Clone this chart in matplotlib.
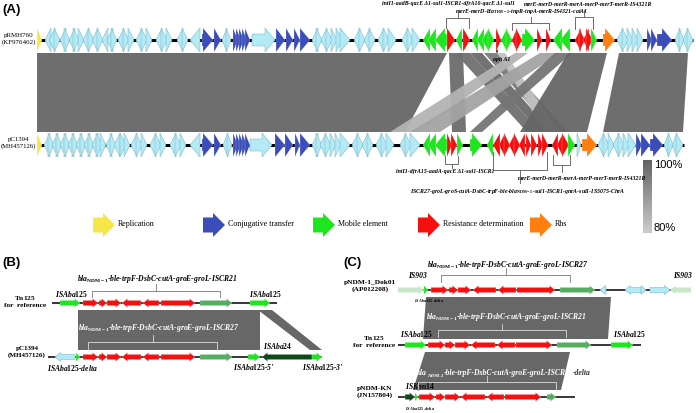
import numpy as np
import matplotlib
matplotlib.use("Agg")
from matplotlib import pyplot as plt
from matplotlib.patches import Polygon
from matplotlib.colors import LinearSegmentedColormap

plt.rcParams['font.family'] = ['Liberation Serif', 'DejaVu Serif']
plt.rcParams['mathtext.fontset'] = 'custom'
plt.rcParams['mathtext.it'] = 'Liberation Serif:italic:bold'
plt.rcParams['mathtext.rm'] = 'Liberation Serif:bold'
plt.rcParams['mathtext.bf'] = 'Liberation Serif:bold'

# colours per gene category
COL = {'rep': '#f7e64a', 'conj': '#3a4db8', 'mob': '#1ee61e', 'res': '#f50f0f',
       'rhs': '#ff7f10', 'hyp': '#b4eaf6', 'is': '#55ad5f', 'pale': '#c8e6c8',
       'dark': '#0e4a18'}

# ---------------- panel A data (positions on the drawing scale) ----------------
top_genes = [
    (37, 42, 1, 'rep'),
    (45, 51, -1, 'hyp'), (49, 55, -1, 'hyp'), (54, 60, 1, 'hyp'), (60, 66, -1, 'hyp'), (64, 70, 1, 'hyp'),
    (69, 75, -1, 'hyp'), (73, 79, 1, 'hyp'), (78, 84, 1, 'hyp'), (83, 89, -1, 'hyp'), (88, 94, 1, 'hyp'),
    (92, 98, -1, 'hyp'), (97, 103, 1, 'hyp'), (102, 108, -1, 'hyp'), (107, 113, -1, 'hyp'), (111, 117, 1, 'hyp'),
    (118, 124, -1, 'hyp'), (123, 129, 1, 'hyp'), (128, 134, 1, 'hyp'), (136, 142, -1, 'hyp'), (141, 147, 1, 'hyp'),
    (146, 152, 1, 'hyp'), (156, 162, -1, 'hyp'), (161, 167, 1, 'hyp'), (166, 172, 1, 'hyp'), (177, 183, -1, 'hyp'),
    (182, 188, 1, 'hyp'), (190, 200, -1, 'hyp'),
    (202, 213, 1, 'conj'), (214, 221, 1, 'conj'), (222, 227, -1, 'hyp'), (226, 231, 1, 'hyp'),
    (233, 238, 1, 'conj'), (236, 241, 1, 'conj'), (239, 244, 1, 'conj'), (242, 247, 1, 'conj'), (245, 250, 1, 'conj'),
    (252, 275, 1, 'hyp'),
    (276, 285, 1, 'conj'), (286, 293, 1, 'conj'), (294, 300, 1, 'conj'), (300, 310, 1, 'conj'),
    (312, 318, -1, 'hyp'), (316, 322, 1, 'hyp'), (321, 327, -1, 'hyp'), (326, 332, 1, 'hyp'), (331, 337, 1, 'hyp'),
    (336, 342, 1, 'hyp'), (340, 350, 1, 'hyp'), (354, 360, -1, 'hyp'), (359, 365, 1, 'hyp'), (364, 370, -1, 'hyp'),
    (369, 375, 1, 'hyp'), (378, 384, -1, 'hyp'), (383, 389, 1, 'hyp'), (388, 396, 1, 'hyp'), (402, 408, -1, 'hyp'),
    (407, 413, 1, 'hyp'), (412, 420, 1, 'hyp'),
    (423, 430, -1, 'mob'), (428, 436, -1, 'mob'), (435, 447, -1, 'mob'),
    (447, 455, 1, 'res'), (456, 462, -1, 'mob'), (463, 470, 1, 'res'),
    (472, 478, -1, 'mob'), (477, 484, -1, 'mob'), (482, 489, -1, 'mob'), (488, 494, 1, 'mob'),
    (496, 501, 1, 'res'), (501, 507, -1, 'mob'), (506, 512, 1, 'mob'), (512, 517, -1, 'res'), (516, 522, 1, 'res'),
    (522, 535, 1, 'mob'), (537, 542, 1, 'res'), (546, 551, 1, 'res'), (553, 562, -1, 'mob'), (560, 570, -1, 'mob'),
    (575, 581, -1, 'res'), (579, 585, 1, 'res'), (583, 589, -1, 'res'), (586, 593, 1, 'res'), (591, 597, 1, 'mob'),
    (603, 615, 1, 'rhs'),
    (617, 623, -1, 'hyp'), (622, 628, 1, 'hyp'), (627, 633, 1, 'hyp'), (632, 638, 1, 'hyp'), (637, 643, 1, 'hyp'),
    (647, 652, 1, 'conj'), (651, 657, 1, 'conj'), (657, 672, 1, 'conj'),
    (675, 680, -1, 'hyp'), (679, 684, 1, 'hyp'), (683, 688, -1, 'hyp'), (687, 693, 1, 'hyp'),
]

bot_genes = [
    (37, 42, 1, 'rep'),
    (44, 50, -1, 'hyp'), (48, 54, 1, 'hyp'), (52, 58, -1, 'hyp'), (56, 62, 1, 'hyp'), (60, 66, -1, 'hyp'),
    (64, 70, 1, 'hyp'), (68, 74, -1, 'hyp'), (72, 78, 1, 'hyp'), (76, 82, -1, 'hyp'), (80, 86, 1, 'hyp'),
    (84, 90, -1, 'hyp'), (88, 94, 1, 'hyp'), (92, 98, -1, 'hyp'), (96, 102, 1, 'hyp'), (100, 106, 1, 'hyp'),
    (106, 112, -1, 'hyp'), (110, 116, 1, 'hyp'), (114, 120, -1, 'hyp'), (120, 126, 1, 'hyp'), (124, 130, 1, 'hyp'),
    (131, 137, -1, 'hyp'), (136, 142, 1, 'hyp'), (141, 147, 1, 'hyp'), (150, 156, -1, 'hyp'), (155, 161, 1, 'hyp'),
    (160, 166, 1, 'hyp'), (170, 176, -1, 'hyp'), (175, 181, 1, 'hyp'), (180, 186, 1, 'hyp'), (190, 200, -1, 'hyp'),
    (202, 213, 1, 'conj'), (214, 221, 1, 'conj'), (223, 228, -1, 'hyp'), (227, 232, 1, 'hyp'),
    (233, 238, 1, 'conj'), (236, 241, 1, 'conj'), (239, 244, 1, 'conj'), (242, 247, 1, 'conj'), (245, 250, 1, 'conj'),
    (250, 272, 1, 'hyp'),
    (275, 285, 1, 'conj'), (285, 293, 1, 'conj'), (295, 300, 1, 'conj'), (300, 310, 1, 'conj'),
    (312, 318, -1, 'hyp'), (316, 322, 1, 'hyp'), (320, 326, -1, 'hyp'), (325, 331, 1, 'hyp'), (330, 336, 1, 'hyp'),
    (335, 341, 1, 'hyp'), (340, 350, 1, 'hyp'), (352, 358, -1, 'hyp'), (357, 363, 1, 'hyp'), (362, 368, -1, 'hyp'),
    (367, 373, 1, 'hyp'), (376, 382, -1, 'hyp'), (381, 387, 1, 'hyp'), (386, 394, 1, 'hyp'), (400, 406, -1, 'hyp'),
    (405, 411, 1, 'hyp'), (410, 420, 1, 'hyp'),
    (423, 430, -1, 'mob'), (428, 436, -1, 'mob'), (435, 447, -1, 'mob'),
    (447, 452, 1, 'res'), (451, 457, 1, 'res'), (457, 463, 1, 'mob'),
    (470, 482, 1, 'mob'), (487, 493, -1, 'mob'),
    (493, 500, -1, 'res'), (499, 505, -1, 'res'), (504, 510, 1, 'res'), (509, 515, -1, 'res'), (514, 520, 1, 'res'),
    (519, 525, -1, 'res'), (526, 531, 1, 'res'), (531, 537, 1, 'res'), (538, 543, 1, 'res'), (542, 548, 1, 'res'),
    (552, 558, -1, 'res'), (557, 563, -1, 'res'), (562, 569, 1, 'res'), (568, 575, 1, 'mob'),
    (577, 581, 1, 'hyp'), (582, 597, 1, 'rhs'),
    (598, 604, -1, 'hyp'), (603, 609, 1, 'hyp'), (608, 614, 1, 'hyp'), (613, 619, -1, 'hyp'), (618, 624, 1, 'hyp'),
    (623, 629, 1, 'hyp'), (628, 636, 1, 'hyp'),
    (636, 642, 1, 'conj'), (641, 650, 1, 'conj'), (650, 663, 1, 'conj'),
    (664, 669, -1, 'hyp'), (668, 673, 1, 'hyp'), (672, 677, -1, 'hyp'), (676, 683, 1, 'hyp'),
]

# blastn hits: top start, top end, bottom start, bottom end, identity (%)
hits = [
    (37, 447, 37, 405, 100),
    (449, 463, 452, 466, 99),
    (455, 470, 527, 540, 98),
    (470, 482, 540, 552, 99),
    (484, 497, 553, 568, 96),
    (497, 505, 545, 560, 82),
    (515, 528, 390, 418, 85),
    (540, 560, 410, 440, 88),
    (555, 572, 470, 482, 97),
    (568, 607, 520, 587, 100),
    (619, 688, 603, 683, 100),
]

legend_labels = ['Replication', 'Conjugative transfer', 'Mobile element', 'Resistance determination', 'Rhs']
legend_keys = ['rep', 'conj', 'mob', 'res', 'rhs']
legend_x = [93, 203, 313, 418, 530]

# ---------------- panel B / C data ----------------
b_tn125 = [(60, 80, 1, 'mob'), (83, 98, 1, 'res'), (99, 107, 1, 'res'), (107, 121, 1, 'res'), (122, 141, -1, 'res'),
           (143, 159, -1, 'res'), (161, 195, 1, 'res'), (200, 232, 1, 'is'), (250, 270, 1, 'mob')]
b_pc1394 = [(55, 75, -1, 'hyp'), (76, 80, 1, 'mob'), (83, 98, 1, 'res'), (99, 107, 1, 'res'), (107, 121, 1, 'res'),
            (122, 141, -1, 'res'), (143, 159, -1, 'res'), (161, 195, 1, 'res'), (200, 232, 1, 'is'),
            (248, 260, 1, 'mob'), (262, 312, -1, 'dark'), (312, 322, 1, 'mob')]
c_dok01 = [(398, 424, 1, 'pale'), (424, 428, 1, 'mob'), (431, 448, 1, 'res'), (449, 458, 1, 'res'), (458, 471, 1, 'res'),
           (473, 496, -1, 'res'), (498, 516, -1, 'res'), (517, 555, 1, 'res'), (560, 595, 1, 'is'),
           (600, 606, -1, 'hyp'), (625, 641, -1, 'hyp'), (641, 646, 1, 'hyp'), (650, 670, 1, 'hyp'), (670, 691, -1, 'pale')]
c_tn125 = [(405, 426, 1, 'mob'), (428, 445, 1, 'res'), (445, 455, 1, 'res'), (455, 470, 1, 'res'), (471, 495, -1, 'res'),
           (497, 515, -1, 'res'), (516, 552, 1, 'res'), (557, 591, 1, 'is'), (611, 633, 1, 'mob')]
c_kn = [(405, 415, 1, 'dark'), (415, 418, 1, 'mob'), (419, 435, 1, 'res'), (436, 445, 1, 'res'), (445, 460, 1, 'res'),
        (461, 485, -1, 'res'), (487, 504, -1, 'res'), (505, 541, 1, 'res'), (547, 556, 1, 'is')]

BLA = r'$bla_{\rm NDM-1}$'
CLUSTER = BLA + '-ble-trpF-DsbC-cutA-groE-groL-ISCR'


def gene(ax, s, e, y, strand, color, H, B, L, ec='none', lw=0.0, z=3):
    hl = min(L, e - s)
    if strand > 0:
        xh = e - hl
        pts = [(s, y - B), (xh, y - B), (xh, y - H), (e, y), (xh, y + H), (xh, y + B), (s, y + B)]
    else:
        xh = s + hl
        pts = [(e, y - B), (xh, y - B), (xh, y - H), (s, y), (xh, y + H), (xh, y + B), (e, y + B)]
    ax.add_patch(Polygon(pts, closed=True, fc=color, ec=ec, lw=lw, zorder=z))


def track(ax, genes, y, x0, x1, H, B, L, lw_line):
    ax.plot([x0, x1], [y, y], color='black', lw=lw_line, zorder=2, solid_capstyle='butt')
    for s, e, st, k in genes:
        if k == 'hyp':
            gene(ax, s, e, y, st, COL[k], H, B, L, ec='#7fbccb', lw=0.4)
        else:
            gene(ax, s, e, y, st, COL[k], H, B, L, ec='#ffffff', lw=0.15)


def bracket(ax, x0, x1, y_base, y_bar, y_tip, color='#555555', lw=0.6):
    xc = (x0 + x1) / 2
    ax.plot([x0, x0, x1, x1], [y_base, y_bar, y_bar, y_base], color=color, lw=lw, zorder=5)
    ax.plot([xc, xc], [y_bar, y_tip], color=color, lw=lw, zorder=5)


def shade(ident):
    # 80% -> light grey, 100% -> dark grey
    f = (ident - 80) / 20.0
    v = 0.80 - f * 0.40
    return (v, v, v)


fig = plt.figure(figsize=(6.96, 4.13), dpi=100)
ax = fig.add_axes([0, 0, 1, 1])

# ================= panel A =================
ax.text(2, 10, '(A)', fontsize=9.5, fontweight='bold', family='Liberation Sans', va='center')
yt, yb = 40, 145
for ts, te, bs, be, idn in hits:
    ax.add_patch(Polygon([(ts, yt + 13), (te, yt + 13), (be, yb - 13), (bs, yb - 13)],
                         closed=True, fc=shade(idn), ec='none', alpha=0.95, zorder=1))
track(ax, top_genes, yt, 37, 693, 12, 6, 10, 2.2)
track(ax, bot_genes, yb, 37, 684, 12, 6, 10, 2.2)
ax.text(36, yt - 1, 'pRMH760\n(KF976462)', fontsize=5.0, ha='right', va='center', multialignment='center')
ax.text(36, yb - 2, 'pC1394\n(MH457126)', fontsize=4.9, ha='right', va='center', multialignment='center')

# annotations above / below the tracks
fa = dict(fontsize=4.2, style='italic', fontweight='bold', ha='center', va='center')
ax.text(448, 4, 'intI1-aadB-qacE Δ1-sul1-ISCR1-dfrA10-qacE Δ1-sul1', **fa)
bracket(ax, 446, 469, 28, 18, 12)
ax.text(522, 12, r'merE-merD-$bla_{\rm TEM-1}$-tnpR-tnpA-merR-IS4321-catA1', **fa)
bracket(ax, 512, 549, 30, 23, 17)
ax.text(588, 4, 'merE-merD-merR-merA-merP-merT-merR-IS4321R', **fa)
bracket(ax, 575, 593, 29, 17, 10)
ax.annotate('', xy=(497, 56), xytext=(497, 47),
            arrowprops=dict(arrowstyle='-|>', color='#333333', lw=0.5, mutation_scale=3), zorder=6)
ax.text(502, 59, 'aph A1', **fa)

bracket(ax, 445, 458, 156, 164, 168)
ax.text(445, 172, 'intI1-dfrA15-aadA-qacE Δ1-sul1-ISCR1', **fa)
bracket(ax, 493, 547, 152, 170, 183)
ax.text(518, 191, 'ISCR27-groL-groS-cutA-DsbC-trpF-ble-' + r'$bla_{\rm NDM-1}$' +
        '-sul1-ISCR1-qnrA-sul1-IS5075-ChrA', **fa)
bracket(ax, 553, 570, 155, 165, 172)
ax.text(582, 179, 'merE-merD-merR-merA-merP-merT-merR-IS4321R', **fa)

# legend arrows
for lx, key, lab in zip(legend_x, legend_keys, legend_labels):
    gene(ax, lx, lx + 22, 225, 1, COL[key], 12, 7.5, 12)
    ax.text(lx + 25, 224, lab, fontsize=5.8, va='center', ha='left')

# identity colour bar
cmap = LinearSegmentedColormap.from_list('idn', ['#cccccc', '#646464'])
grad = np.linspace(100, 80, 100).reshape(-1, 1)
ax.imshow(grad, extent=(643, 652, 233, 160), origin='upper', aspect='auto', cmap=cmap,
          vmin=80, vmax=100, zorder=2)
ax.text(654, 165, '100%', fontsize=8, family='Liberation Sans', va='center')
ax.text(654, 228, '80%', fontsize=8, family='Liberation Sans', va='center')

# ================= panel B =================
fb = dict(fontsize=5.5, style='italic', fontweight='bold', va='center')
H2, B2, L2 = 4.5, 2.6, 5.5
ax.text(2, 263, '(B)', fontsize=9.5, fontweight='bold', family='Liberation Sans', va='center')
ax.add_patch(Polygon([(78, 310), (260, 310), (260, 350), (78, 350)], fc='#676767', ec='none', zorder=1))
ax.add_patch(Polygon([(258, 310), (272, 310), (322, 350), (310, 350)], fc='#676767', ec='none', zorder=1))
track(ax, b_tn125, 303, 52, 277, H2, B2, L2, 1.1)
track(ax, b_pc1394, 357, 48, 322, H2, B2, L2, 1.1)
ax.text(46, 301, r'Tn$\mathit{125}$' + '\nfor  reference', fontsize=5.3, fontweight='bold', ha='right',
        va='center', multialignment='center')
ax.text(46, 352, 'pC1394\n(MH457126)', fontsize=5.0, fontweight='bold', ha='right', va='center',
        multialignment='center')
ax.text(55, 294, 'IS' + r'$Aba125$', **fb)
ax.text(249, 294, 'IS' + r'$Aba125$', **fb)
ax.text(157, 279, CLUSTER + '21', ha='center', **fb)
bracket(ax, 92, 220, 297, 291, 284, color='#777777')
ax.text(159, 328, CLUSTER + '27', ha='center', color='white', **fb)
bracket(ax, 88, 217, 350, 342, 335, color='#dddddd')
ax.text(47, 368, 'IS' + r'$Aba125$' + '-delta', **fb)
ax.text(233, 367, 'IS' + r'$Aba125$' + "-5'", **fb)
ax.text(302, 367, 'IS' + r'$Aba125$' + "-3'", **fb)
ax.text(263, 346, 'IS' + r'$Aba24$', **fb)

# ================= panel C =================
ax.text(343, 263, '(C)', fontsize=9.5, fontweight='bold', family='Liberation Sans', va='center')
ax.add_patch(Polygon([(426, 297), (611, 297), (608, 339), (423, 339)], fc='#676767', ec='none', zorder=1))
ax.add_patch(Polygon([(425, 352), (570, 352), (561, 390), (413, 390)], fc='#676767', ec='none', zorder=1))
track(ax, c_dok01, 290, 398, 691, H2, B2, L2, 1.1)
track(ax, c_tn125, 345, 398, 641, H2, B2, L2, 1.1)
track(ax, c_kn, 397, 398, 575, H2, B2, L2, 1.1)
ax.text(396, 286, 'pNDM-1_Dok01\n(AP012208)', fontsize=5.3, fontweight='bold', ha='right', va='center',
        multialignment='center')
ax.text(395, 341, r'Tn$\mathit{125}$' + '\nfor  reference', fontsize=5.3, fontweight='bold', ha='right',
        va='center', multialignment='center')
ax.text(393, 392, 'pNDM-KN\n(JN157804)', fontsize=5.3, fontweight='bold', ha='right', va='center',
        multialignment='center')
ax.text(408, 276, 'IS903', **fb)
ax.text(673, 276, 'IS903', **fb)
ax.text(414, 301, 'IS' + r'$Aba125$' + '-delta', fontsize=3.2, style='italic', fontweight='bold', va='center')
ax.text(508, 265, CLUSTER + '27', ha='center', **fb)
bracket(ax, 441, 570, 282, 275, 268, color='#777777')
ax.text(506, 317, CLUSTER + '21', ha='center', color='white', **fb)
bracket(ax, 438, 566, 337, 330, 324, color='#dddddd')
ax.text(400, 334, 'IS' + r'$Aba125$', **fb)
ax.text(613, 334, 'IS' + r'$Aba125$', **fb)

# truncated copy label: pieces chained so "-delta" follows directly
fc = dict(style='italic', fontweight='bold', va='baseline', ha='left')
t1 = ax.text(417, 375, 'bla', color='white', fontsize=5.5, **fc)
t2 = ax.annotate('NDM-1', xy=(1, 377), xycoords=(t1, 'data'), color='white', fontsize=3.8, **fc)
t3 = ax.annotate('-ble-trpF-DsbC-cutA-groE-groL-ISCR27', xy=(1, 375), xycoords=(t2, 'data'),
                 color='white', fontsize=5.5, **fc)
ax.annotate('-delta', xy=(1, 375), xycoords=(t3, 'data'), color='#333333', fontsize=5.5, **fc)
bracket(ax, 418, 556, 390, 382, 376, color='#dddddd')
ax.text(405, 387, 'IS' + r'$Kpn14$', **fb)
ax.text(405, 408, 'IS' + r'$Aba125$' + '-delta', fontsize=3.2, style='italic', fontweight='bold', va='center')

ax.set_xlim(0, 696)
ax.set_ylim(413, 0)
ax.axis('off')
fig.savefig('out.png', dpi=100)
